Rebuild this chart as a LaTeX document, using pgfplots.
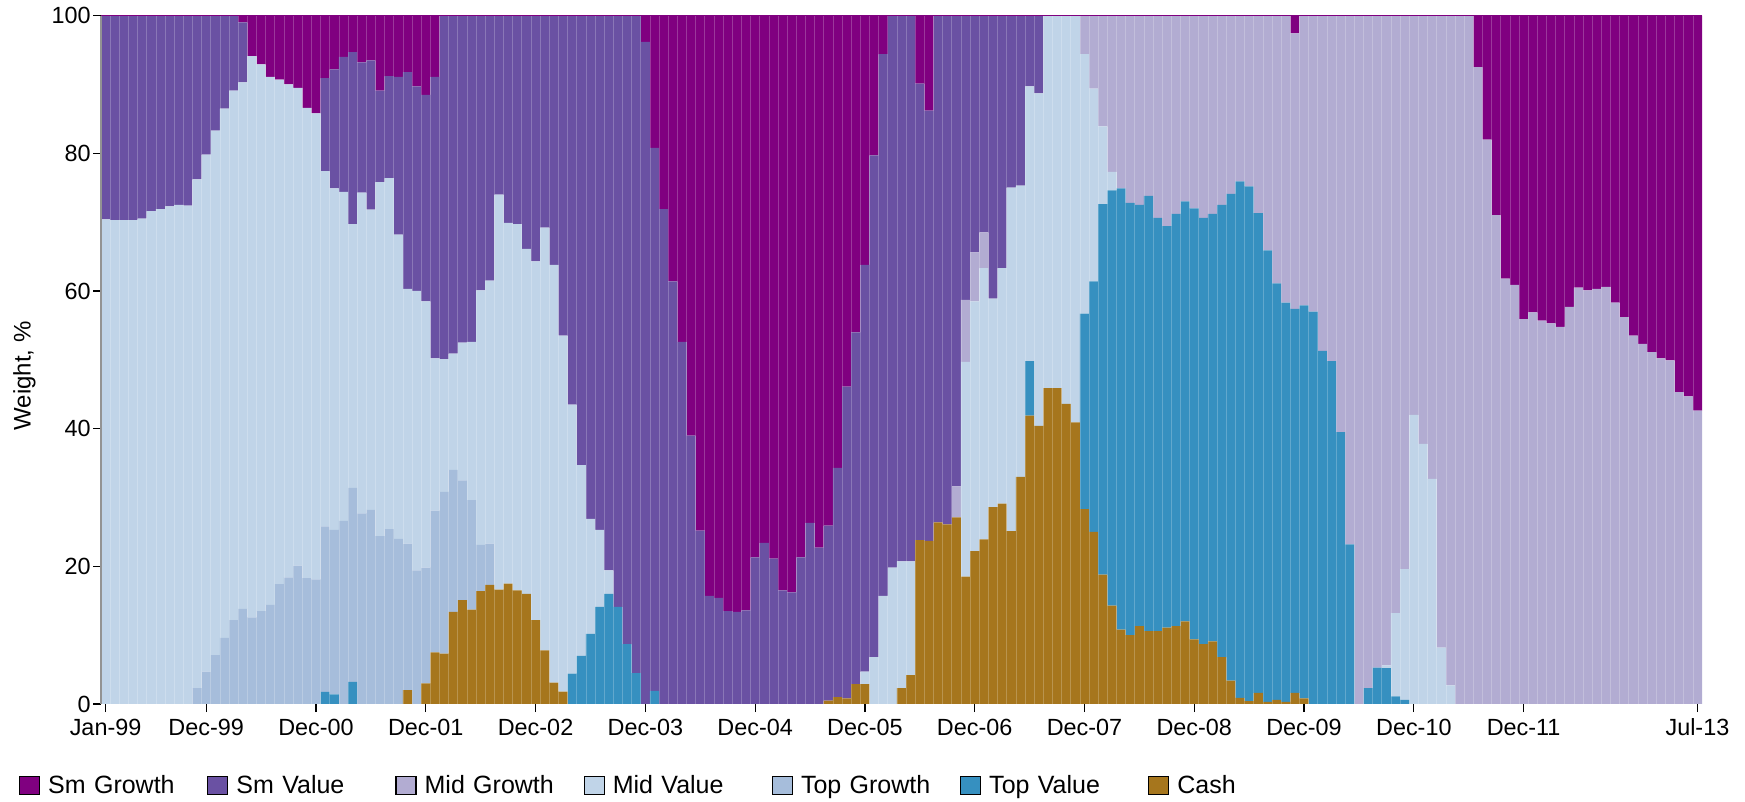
\documentclass[border=0pt]{standalone}
\usepackage{fontspec}
\setmainfont{Liberation Sans}
\usepackage{pgfplots}
\usepackage{pgfplotstable}
\pgfplotsset{compat=1.18}
\definecolor{cSG}{HTML}{800080}
\definecolor{cSV}{HTML}{6A51A3}
\definecolor{cMG}{HTML}{B2ACD2}
\definecolor{cMV}{HTML}{C0D4E8}
\definecolor{cTG}{HTML}{A6BDDB}
\definecolor{cTV}{HTML}{3690C0}
\definecolor{cC}{HTML}{A6761D}
\pgfplotstableread{
x C TV TG MV MG SV SG
0 0 0 0 70.4 0 29.6 0
1 0 0 0 70.3 0 29.7 0
2 0 0 0 70.3 0 29.7 0
3 0 0 0 70.3 0 29.7 0
4 0 0 0 70.5 0 29.5 0
5 0 0 0 71.6 0 28.4 0
6 0 0 0 71.9 0 28.1 0
7 0 0 0 72.3 0 27.7 0
8 0 0 0 72.5 0 27.5 0
9 0 0 0 72.4 0 27.6 0
10 0 0 2.3 73.9 0 23.8 0
11 0 0 4.7 75.1 0 20.2 0
12 0 0 7.1 76.2 0 16.7 0
13 0 0 9.6 76.9 0 13.5 0
14 0 0 12.2 76.9 0 10.9 0
15 0 0 13.8 76.5 0 8.7 1.0
16 0 0 12.6 81.5 0 0 5.9
17 0 0 13.5 79.4 0 0 7.1
18 0 0 14.4 76.7 0 0 8.9
19 0 0 17.4 73.3 0 0 9.3
20 0 0 18.4 71.6 0 0 10.0
21 0 0 20.1 69.4 0 0 10.5
22 0 0 18.3 68.3 0 0 13.4
23 0 0 18.1 67.7 0 0 14.2
24 0 1.75 24.05 51.6 0 13.5 9.1
25 0 1.4 23.9 49.6 0 17.3 7.8
26 0 0 26.6 47.8 0 19.6 6.0
27 0 3.2 28.2 38.3 0 25.0 5.3
28 0 0 27.7 46.6 0 18.9 6.8
29 0 0 28.2 43.6 0 21.7 6.5
30 0 0 24.4 51.4 0 13.3 10.9
31 0 0 25.4 51.0 0 14.8 8.8
32 0 0 24.0 44.2 0 22.9 8.9
33 2.0 0 21.3 37.0 0 31.5 8.2
34 0 0 19.4 40.6 0 29.7 10.3
35 3.0 0 16.8 38.7 0 30.0 11.5
36 7.5 0 20.6 22.1 0 40.9 8.9
37 7.3 0 23.5 19.3 0 49.9 0
38 13.4 0 20.6 16.9 0 49.1 0
39 15.1 0 17.4 20.0 0 47.5 0
40 13.7 0 15.9 23.0 0 47.4 0
41 16.4 0 6.7 37.0 0 39.9 0
42 17.3 0 6.0 38.2 0 38.5 0
43 16.6 0 0 57.4 0 26.0 0
44 17.5 0 0 52.4 0 30.1 0
45 16.5 0 0 53.2 0 30.3 0
46 16.0 0 0 50.1 0 33.9 0
47 12.2 0 0 52.1 0 35.7 0
48 7.8 0 0 61.4 0 30.8 0
49 3.1 0 0 60.7 0 36.2 0
50 1.8 0 0 51.7 0 46.5 0
51 0 4.4 0 39.1 0 56.5 0
52 0 7.0 0 27.7 0 65.3 0
53 0 10.2 0 16.7 0 73.1 0
54 0 14.1 0 11.2 0 74.7 0
55 0 16.0 0 3.4 0 80.6 0
56 0 14.1 0 0 0 85.9 0
57 0 8.7 0 0 0 91.3 0
58 0 4.5 0 0 0 95.5 0
59 0 0 0 0 0 96.2 3.8
60 0 1.9 0 0 0 78.9 19.2
61 0 0 0 0 0 71.9 28.1
62 0 0 0 0 0 61.4 38.6
63 0 0 0 0 0 52.6 47.4
64 0 0 0 0 0 39.0 61.0
65 0 0 0 0 0 25.2 74.8
66 0 0 0 0 0 15.7 84.3
67 0 0 0 0 0 15.4 84.6
68 0 0 0 0 0 13.5 86.5
69 0 0 0 0 0 13.4 86.6
70 0 0 0 0 0 13.6 86.4
71 0 0 0 0 0 21.3 78.7
72 0 0 0 0 0 23.4 76.6
73 0 0 0 0 0 21.1 78.9
74 0 0 0 0 0 16.5 83.5
75 0 0 0 0 0 16.2 83.8
76 0 0 0 0 0 21.3 78.7
77 0 0 0 0 0 26.3 73.7
78 0 0 0 0 0 22.7 77.3
79 0.5 0 0 0 0 25.4 74.1
80 1.0 0 0 0 0 33.3 65.7
81 0.8 0 0 0 0 45.3 53.9
82 2.9 0 0 0 0 51.1 46.0
83 2.9 0 0 1.8 0 59.1 36.2
84 0 0 0 6.8 0 72.9 20.3
85 0 0 0 15.7 0 78.7 5.6
86 0 0 0 19.8 0 80.2 0
87 2.3 0 0 18.4 0 79.3 0
88 4.2 0 0 16.5 0 79.3 0
89 23.8 0 0 0 0 66.3 9.9
90 23.7 0 0 0 0 62.5 13.8
91 26.4 0 0 0 0 73.6 0
92 26.1 0 0 0 0 73.9 0
93 27.1 0 0 0 4.5 68.4 0
94 18.5 0 0 31.2 9.0 41.3 0
95 22.2 0 0 36.3 7.1 34.4 0
96 23.9 0 0 39.4 5.2 31.5 0
97 28.6 0 0 30.3 0 41.1 0
98 29.1 0 0 34.2 0 36.7 0
99 25.1 0 0 49.9 0 25.0 0
100 33.0 0 0 42.3 0 24.7 0
101 41.9 7.9 0 39.9 0 10.3 0
102 40.4 0 0 48.3 0 11.3 0
103 45.9 0 0 54.1 0 0 0
104 45.9 0 0 54.1 0 0 0
105 43.6 0 0 56.4 0 0 0
106 40.9 0 0 59.1 0 0 0
107 28.3 28.4 0 37.7 5.6 0 0
108 25.0 36.4 0 28.0 10.6 0 0
109 18.8 53.8 0 11.3 16.1 0 0
110 14.3 60.3 0 2.7 22.7 0 0
111 10.8 64.1 0 0 25.1 0 0
112 10.0 62.8 0 0 27.2 0 0
113 11.3 61.2 0 0 27.5 0 0
114 10.6 63.2 0 0 26.2 0 0
115 10.6 60.0 0 0 29.4 0 0
116 11.1 58.3 0 0 30.6 0 0
117 11.3 59.9 0 0 28.8 0 0
118 12.0 61.0 0 0 27.0 0 0
119 9.4 62.6 0 0 28.0 0 0
120 8.7 61.9 0 0 29.4 0 0
121 9.1 62.1 0 0 28.8 0 0
122 6.8 65.7 0 0 27.5 0 0
123 3.4 70.7 0 0 25.9 0 0
124 0.9 75.0 0 0 24.1 0 0
125 0.4 74.8 0 0 24.8 0 0
126 1.6 69.7 0 0 28.7 0 0
127 0.3 65.6 0 0 34.1 0 0
128 0.6 60.5 0 0 38.9 0 0
129 0.3 58.0 0 0 41.7 0 0
130 1.6 55.8 0 0 40.0 0 2.6
131 0.8 57.1 0 0 42.1 0 0
132 0 57.0 0 0 43.0 0 0
133 0 51.3 0 0 48.7 0 0
134 0 49.8 0 0 50.2 0 0
135 0 39.5 0 0 60.5 0 0
136 0 23.2 0 0 76.8 0 0
137 0 0 0 0 100 0 0
138 0 2.3 0 0 97.7 0 0
139 0 5.3 0 0 94.7 0 0
140 0 5.2 0 0.4 94.4 0 0
141 0 1.1 0 12.1 86.8 0 0
142 0 0.6 0 19.0 80.4 0 0
143 0 0 0 42.0 58.0 0 0
144 0 0 0 37.8 62.2 0 0
145 0 0 0 32.7 67.3 0 0
146 0 0 0 8.2 91.8 0 0
147 0 0 0 2.7 97.3 0 0
148 0 0 0 0 100 0 0
149 0 0 0 0 100 0 0
150 0 0 0 0 92.5 0 7.5
151 0 0 0 0 82.0 0 18.0
152 0 0 0 0 71.0 0 29.0
153 0 0 0 0 61.8 0 38.2
154 0 0 0 0 60.9 0 39.1
155 0 0 0 0 55.9 0 44.1
156 0 0 0 0 56.9 0 43.1
157 0 0 0 0 55.7 0 44.3
158 0 0 0 0 55.3 0 44.7
159 0 0 0 0 54.8 0 45.2
160 0 0 0 0 57.7 0 42.3
161 0 0 0 0 60.5 0 39.5
162 0 0 0 0 60.1 0 39.9
163 0 0 0 0 60.3 0 39.7
164 0 0 0 0 60.6 0 39.4
165 0 0 0 0 58.3 0 41.7
166 0 0 0 0 56.2 0 43.8
167 0 0 0 0 53.5 0 46.5
168 0 0 0 0 52.3 0 47.7
169 0 0 0 0 51.1 0 48.9
170 0 0 0 0 50.2 0 49.8
171 0 0 0 0 49.9 0 50.1
172 0 0 0 0 45.3 0 54.7
173 0 0 0 0 44.7 0 55.3
174 0 0 0 0 42.6 0 57.4
}\datatable
\begin{document}
\begin{tikzpicture}
\useasboundingbox (0,0) rectangle (872.5bp,401bp);
\begin{axis}[
  at={(50.5bp,49bp)}, anchor=south west,
  width=800.5bp, height=344.2bp, scale only axis,
  ybar stacked, bar width=1,
  xmin=-0.5, xmax=174.5, ymin=0, ymax=100,
  enlarge x limits=false, enlarge y limits=false,
  axis on top,
  axis x line*=bottom, axis y line*=left,
  x axis line style={draw=none},
  y axis line style={draw=gray!85, line width=0.6bp},
  tick align=outside, major tick length=4bp,
  tick style={black, line width=0.6bp},
  xtick={0,11,23,35,47,59,71,83,95,107,119,131,143,155,174},
  xticklabels={Jan-99,Dec-99,Dec-00,Dec-01,Dec-02,Dec-03,Dec-04,Dec-05,Dec-06,Dec-07,Dec-08,Dec-09,Dec-10,Dec-11,Jul-13},
  ytick={0,20,40,60,80,100},
  extra x ticks={0.5,1.5,...,173.5},
  extra x tick labels={},
  extra x tick style={grid=major, major tick length=0pt, major grid style={white, opacity=0.22, line width=0.35bp}},
  /pgf/number format/assume math mode=true,
  ticklabel style={font=\fontsize{11.7bp}{14bp}\selectfont},
  yticklabel style={inner xsep=1bp},
  ylabel={Weight, \%},
  every axis y label/.style={at={(axis description cs:-0.0478,0.4765)}, rotate=90, anchor=center, font=\fontsize{12bp}{14bp}\selectfont},
  legend columns=-1,
  reverse legend,
  legend cell align=left,
  legend style={at={(axis description cs:-0.0512,-0.1185)}, anchor=west, draw=none, fill=none, inner sep=0pt, outer sep=0pt,
    font=\fontsize{12.5bp}{15bp}\selectfont,
    /tikz/every even column/.append style={column sep=0bp},
    nodes={inner xsep=4bp, inner ysep=1bp, text width=75.5bp, align=left}},
  legend image code/.code={\draw[#1,draw=black,line width=0.6bp] (0bp,-4.6bp) rectangle (10bp,4.6bp);},
  every axis plot/.append style={draw=none},
]
\addplot[fill=cC] table[x=x,y=C]{\datatable};
\addplot[fill=cTV] table[x=x,y=TV]{\datatable};
\addplot[fill=cTG] table[x=x,y=TG]{\datatable};
\addplot[fill=cMV] table[x=x,y=MV]{\datatable};
\addplot[fill=cMG] table[x=x,y=MG]{\datatable};
\addplot[fill=cSV] table[x=x,y=SV]{\datatable};
\addplot[fill=cSG] table[x=x,y=SG]{\datatable};
\legend{Cash,Top Value,Top Growth,Mid Value,Mid Growth,Sm Value,Sm Growth}
\end{axis}
\begin{axis}[
  at={(50.5bp,49bp)}, anchor=south west,
  width=800.5bp, height=344.2bp, scale only axis,
  xmin=-0.5, xmax=174.5, ymin=0, ymax=100,
  axis x line*=top, axis y line=none,
  xtick=\empty, ytick=\empty,
  x axis line style={draw=cSG, line width=0.8bp},
]
\end{axis}
\end{tikzpicture}
\end{document}
